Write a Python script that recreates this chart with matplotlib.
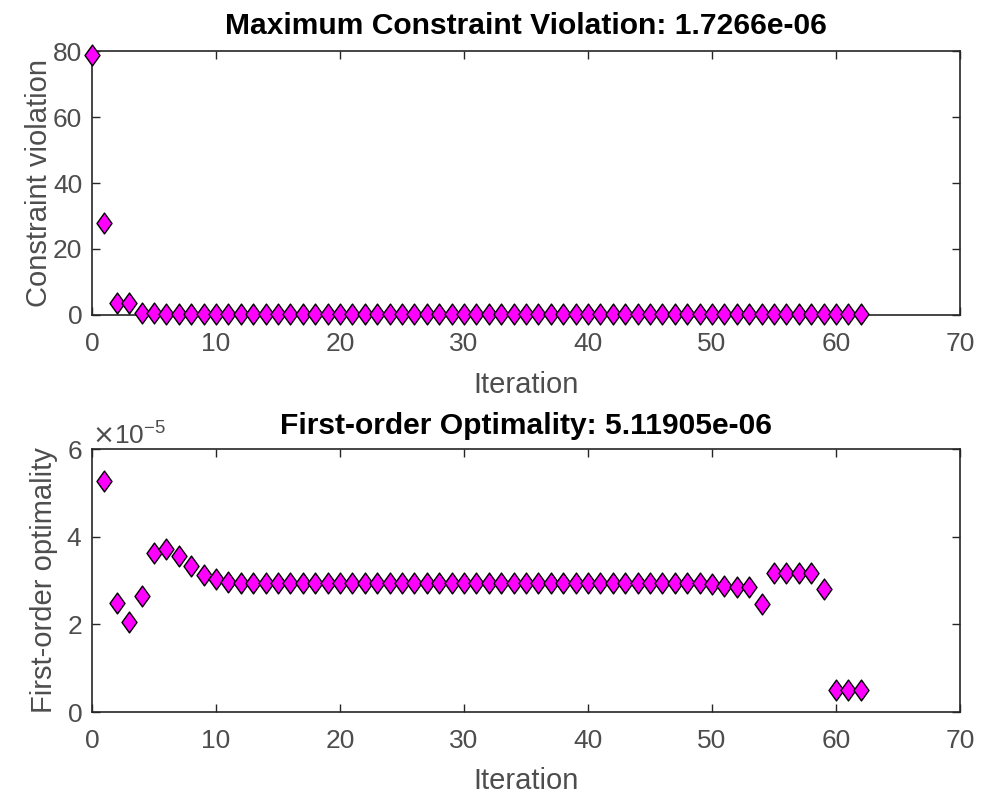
import matplotlib
matplotlib.use("Agg")
import matplotlib.pyplot as plt
import numpy as np
from matplotlib.path import Path
from matplotlib.ticker import ScalarFormatter

# Constraint violation per iteration (iterations 0..62)
viol_iter = list(range(0, 63))
viol_vals = [78.8, 27.9, 3.6, 3.6] + [0.6, 0.5] + [0.4] * 57

# First-order optimality per iteration (iterations 1..62), in units of 1e-5
opt_iter = list(range(1, 63))
opt_scaled = [5.26, 2.48, 2.06, 2.65, 3.62, 3.72, 3.55, 3.32, 3.13, 3.03,
              2.97] + [2.94] * 38 + [2.91, 2.87, 2.86, 2.85, 2.47,
              3.17, 3.18, 3.18, 3.17, 2.80, 0.512, 0.512, 0.512]
opt_vals = np.array(opt_scaled) * 1e-5

plt.rcParams['font.family'] = ['Liberation Sans', 'DejaVu Sans']
gray = '#4d4d4d'
edge = '#262626'

diamond = Path([(0, 1), (0.72, 0), (0, -1), (-0.72, 0), (0, 1)],
               [Path.MOVETO, Path.LINETO, Path.LINETO, Path.LINETO, Path.CLOSEPOLY])

fig = plt.figure(figsize=(9.82, 7.96), dpi=100)
ax1 = fig.add_axes([0.0937, 0.6043, 0.884, 0.3316])
ax2 = fig.add_axes([0.0937, 0.1055, 0.884, 0.3304])


def style(ax):
    for s in ax.spines.values():
        s.set_color(edge)
        s.set_linewidth(1.2)
    ax.tick_params(direction='in', top=True, right=True, length=6, width=1.0,
                   colors=edge, labelcolor=gray, labelsize=19)
    ax.tick_params(axis='x', pad=12)
    ax.tick_params(axis='y', pad=7)
    ax.set_xlim(0, 70)
    ax.set_xticks(range(0, 71, 10))


ax1.plot(viol_iter, viol_vals, linestyle='none', marker=diamond, markersize=15,
         markerfacecolor='#ff00ff', markeredgecolor='black', markeredgewidth=1.0,
         clip_on=False, zorder=3)
style(ax1)
ax1.set_ylim(0, 80)
ax1.set_yticks(range(0, 81, 20))
ax1.set_title('Maximum Constraint Violation: 1.7266e-06', fontsize=21.6,
              fontweight='bold', color='black', pad=12)
ax1.set_xlabel('Iteration', fontsize=21, color=gray, labelpad=11)
ax1.set_ylabel('Constraint violation', fontsize=21, color=gray, labelpad=0)

ax2.plot(opt_iter, opt_vals, linestyle='none', marker=diamond, markersize=15,
         markerfacecolor='#ff00ff', markeredgecolor='black', markeredgewidth=1.0,
         clip_on=False, zorder=3)
style(ax2)
ax2.set_ylim(0, 6e-5)
ax2.set_yticks([0, 2e-5, 4e-5, 6e-5])
fmt = ScalarFormatter(useMathText=True)
fmt.set_powerlimits((0, 0))
ax2.yaxis.set_major_formatter(fmt)
ax2.yaxis.get_offset_text().set_fontsize(19)
ax2.yaxis.get_offset_text().set_color(gray)
ax2.set_title('First-order Optimality: 5.11905e-06', fontsize=21.6,
              fontweight='bold', color='black', pad=11)
ax2.set_xlabel('Iteration', fontsize=21, color=gray, labelpad=10)
ax2.set_ylabel('First-order optimality', fontsize=21, color=gray, labelpad=6)

fig.savefig('out.png', dpi=100)
